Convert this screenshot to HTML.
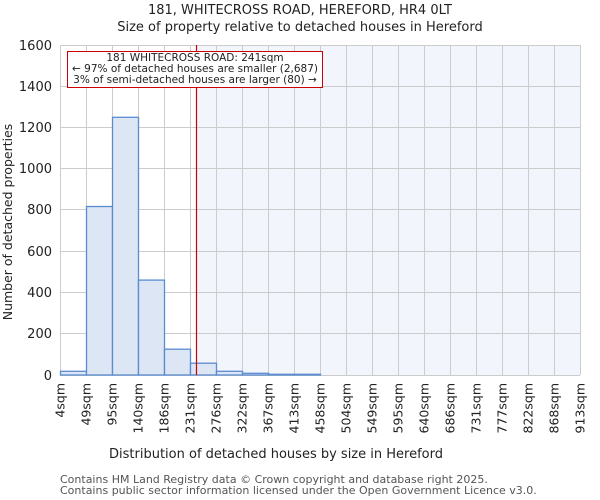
<!DOCTYPE html>
<html><head><meta charset="utf-8"><style>
html,body{margin:0;padding:0;background:#fff;}
svg{display:block;font-family:"DejaVu Sans","Liberation Sans",sans-serif;}
</style></head><body>
<svg width="600" height="500" viewBox="0 0 600 500" xmlns="http://www.w3.org/2000/svg">
<rect x="196.5" y="45" width="383.5" height="330" fill="#f2f5fc"/>
<g stroke="#cccccc" stroke-width="1">
<line x1="60" y1="45.5" x2="580" y2="45.5"/>
<line x1="60" y1="86.5" x2="580" y2="86.5"/>
<line x1="60" y1="127.5" x2="580" y2="127.5"/>
<line x1="60" y1="168.5" x2="580" y2="168.5"/>
<line x1="60" y1="209.5" x2="580" y2="209.5"/>
<line x1="60" y1="251.5" x2="580" y2="251.5"/>
<line x1="60" y1="292.5" x2="580" y2="292.5"/>
<line x1="60" y1="333.5" x2="580" y2="333.5"/>
<line x1="60" y1="375.5" x2="580" y2="375.5"/>
<line x1="60.5" y1="45" x2="60.5" y2="375"/><line x1="86.5" y1="45" x2="86.5" y2="375"/><line x1="112.5" y1="45" x2="112.5" y2="375"/><line x1="138.5" y1="45" x2="138.5" y2="375"/><line x1="164.5" y1="45" x2="164.5" y2="375"/><line x1="190.5" y1="45" x2="190.5" y2="375"/><line x1="216.5" y1="45" x2="216.5" y2="375"/><line x1="242.5" y1="45" x2="242.5" y2="375"/><line x1="268.5" y1="45" x2="268.5" y2="375"/><line x1="294.5" y1="45" x2="294.5" y2="375"/><line x1="320.5" y1="45" x2="320.5" y2="375"/><line x1="346.5" y1="45" x2="346.5" y2="375"/><line x1="372.5" y1="45" x2="372.5" y2="375"/><line x1="398.5" y1="45" x2="398.5" y2="375"/><line x1="424.5" y1="45" x2="424.5" y2="375"/><line x1="450.5" y1="45" x2="450.5" y2="375"/><line x1="476.5" y1="45" x2="476.5" y2="375"/><line x1="502.5" y1="45" x2="502.5" y2="375"/><line x1="528.5" y1="45" x2="528.5" y2="375"/><line x1="554.5" y1="45" x2="554.5" y2="375"/><line x1="580.5" y1="45" x2="580.5" y2="375"/>
</g>
<g fill="#dce6f4" stroke="#5b8bd0" stroke-width="1.3">
<rect x="60.5" y="371.3" width="26" height="3.7"/>
<rect x="86.5" y="206.5" width="26" height="168.5"/>
<rect x="112.5" y="117.3" width="26" height="257.7"/>
<rect x="138.5" y="280.1" width="26" height="94.9"/>
<rect x="164.5" y="349.2" width="26" height="25.8"/>
<rect x="190.5" y="363.2" width="26" height="11.8"/>
<rect x="216.5" y="371.3" width="26" height="3.7"/>
<rect x="242.5" y="373.3" width="26" height="1.7"/>
<rect x="268.5" y="374.3" width="26" height="0.7"/>
<rect x="294.5" y="374.3" width="26" height="0.7"/>
</g>
<line x1="196.5" y1="45" x2="196.5" y2="375" stroke="#cc0000" stroke-width="1.2"/>
<rect x="67.5" y="51.5" width="255" height="36" fill="#fff" stroke="#cc0000" stroke-width="1"/>
<g font-size="10.5" fill="#222" text-anchor="middle">
<text x="195" y="61">181 WHITECROSS ROAD: 241sqm</text>
<text x="195" y="72">← 97% of detached houses are smaller (2,687)</text>
<text x="195" y="83">3% of semi-detached houses are larger (80) →</text>
</g>
<g font-size="13" fill="#222" text-anchor="end">
<text x="52" y="50">1600</text><text x="52" y="91">1400</text><text x="52" y="132">1200</text><text x="52" y="173">1000</text><text x="52" y="214">800</text><text x="52" y="256">600</text><text x="52" y="297">400</text><text x="52" y="338">200</text><text x="52" y="380">0</text>
</g>
<g font-size="12.5" fill="#222" text-anchor="end">
<text transform="translate(64.5,383) rotate(-90)">4sqm</text>
<text transform="translate(90.5,383) rotate(-90)">49sqm</text>
<text transform="translate(116.5,383) rotate(-90)">95sqm</text>
<text transform="translate(142.5,383) rotate(-90)">140sqm</text>
<text transform="translate(168.5,383) rotate(-90)">186sqm</text>
<text transform="translate(194.5,383) rotate(-90)">231sqm</text>
<text transform="translate(220.5,383) rotate(-90)">276sqm</text>
<text transform="translate(246.5,383) rotate(-90)">322sqm</text>
<text transform="translate(272.5,383) rotate(-90)">367sqm</text>
<text transform="translate(298.5,383) rotate(-90)">413sqm</text>
<text transform="translate(324.5,383) rotate(-90)">458sqm</text>
<text transform="translate(350.5,383) rotate(-90)">504sqm</text>
<text transform="translate(376.5,383) rotate(-90)">549sqm</text>
<text transform="translate(402.5,383) rotate(-90)">595sqm</text>
<text transform="translate(428.5,383) rotate(-90)">640sqm</text>
<text transform="translate(454.5,383) rotate(-90)">686sqm</text>
<text transform="translate(480.5,383) rotate(-90)">731sqm</text>
<text transform="translate(506.5,383) rotate(-90)">777sqm</text>
<text transform="translate(532.5,383) rotate(-90)">822sqm</text>
<text transform="translate(558.5,383) rotate(-90)">868sqm</text>
<text transform="translate(584.5,383) rotate(-90)">913sqm</text>
</g>
<g fill="#222" text-anchor="middle" font-size="13">
<text x="300" y="14">181, WHITECROSS ROAD, HEREFORD, HR4 0LT</text>
<text x="300" y="31">Size of property relative to detached houses in Hereford</text>
<text x="276" y="458">Distribution of detached houses by size in Hereford</text>
<text transform="translate(12,222) rotate(-90)" font-size="12.5">Number of detached properties</text>
</g>
<g fill="#555" font-size="11">
<text x="60" y="483">Contains HM Land Registry data © Crown copyright and database right 2025.</text>
<text x="60" y="494">Contains public sector information licensed under the Open Government Licence v3.0.</text>
</g>
</svg>
</body></html>
